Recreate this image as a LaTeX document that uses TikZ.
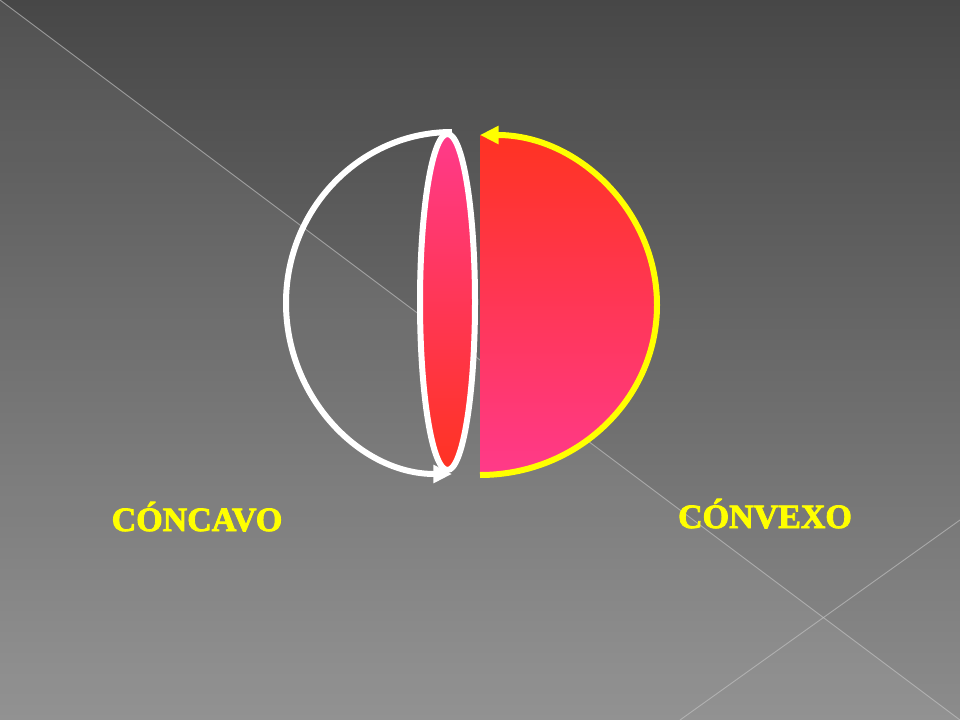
\documentclass[tikz,border=0pt]{standalone}
\usepackage{fontspec}
\setmainfont{Liberation Serif}
\newfontfamily\labelfont[FakeBold=2.5]{Liberation Serif}
\usetikzlibrary{arrows.meta}
\definecolor{bgtop}{HTML}{474747}
\definecolor{bgbottom}{HTML}{8C8C8C}
\definecolor{lenspink}{HTML}{FF3A8A}
\definecolor{lensred}{HTML}{FF3322}
\definecolor{signyellow}{HTML}{FFFF00}
\tikzset{
    %Define standard arrow tip
    >={Triangle[length=14pt, width=13pt]},
    %Define style for the labels
    label-style/.style={
           text=signyellow,
           font=\labelfont\bfseries\fontsize{25.5}{30}\selectfont,
           inner sep=0pt,
           anchor=base},
    %Define styles for the outlines
    white-line/.style={
           draw=white,
           line width=4.5pt},
    yellow-line/.style={
           draw=signyellow,
           line width=4.5pt},
    % Define style for the background lines
    bg-line/.style={
           draw=white!55!gray,
           opacity=0.6,
           line width=0.7pt}
}

\begin{document}
\begin{tikzpicture}[x=0.75pt, y=-0.75pt]
 \useasboundingbox (0,0) rectangle (960,720);
 \shade[top color=bgtop, bottom color=bgbottom] (0,0) rectangle (960,720);
 \fill[white, opacity=0.06] (0,0) -- (960,720) -- (0,720) -- cycle;
 \draw[bg-line] (0,0) -- (960,720);
 \draw[bg-line] (680,720) -- (960,520);

 \coordinate (sphere) at (452,303);
 \coordinate (lens) at (447.5,302);
 \coordinate (half) at (480,305);
 \coordinate (spheretop) at (452,132);
 \coordinate (halftop) at (480,135);
 \coordinate (halfbottom) at (480,475);

 % lens
 \draw[white-line, top color=lenspink, bottom color=lensred]
   (lens) ellipse [x radius=27.5, y radius=168];

 % left half of the sphere
 \draw[white-line, ->] (spheretop)
   arc [start angle=270, end angle=90, x radius=166, y radius=171];

 % right half of the sphere
 \shade[top color=lensred, bottom color=lenspink] (halftop) -- (halfbottom)
   arc [start angle=90, end angle=-90, x radius=177, y radius=170] -- cycle;
 \draw[yellow-line, ->] (halfbottom)
   arc [start angle=90, end angle=-90, x radius=177, y radius=170];

 \node[label-style] (concave) at (197,531) {CÓNCAVO};
 \node[label-style] (convex) at (765,528) {CÓNVEXO};
\end{tikzpicture}
\end{document}
